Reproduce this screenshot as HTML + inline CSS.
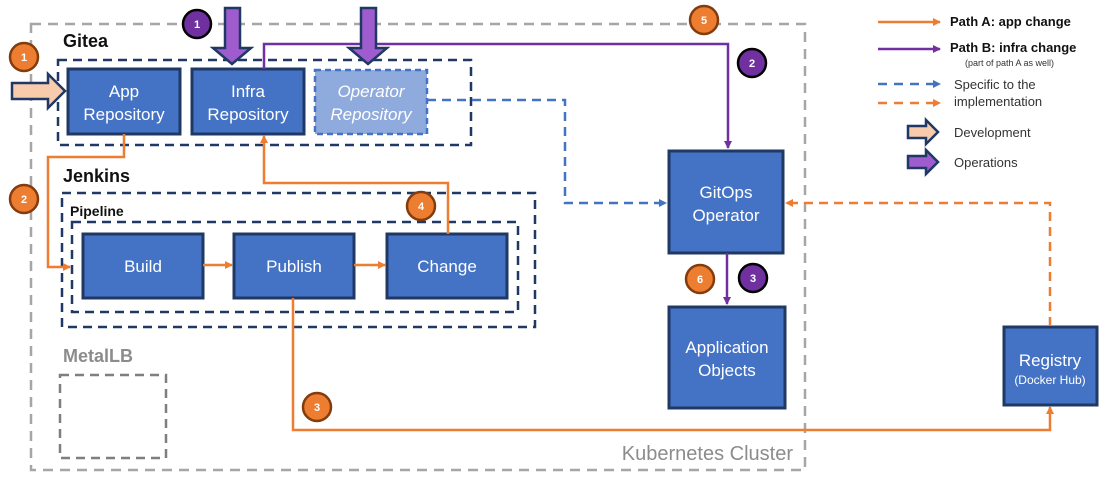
<!DOCTYPE html>
<html><head><meta charset="utf-8"><style>
html,body{margin:0;padding:0;background:#fff;}
svg{display:block;font-family:"Liberation Sans",sans-serif;}
.b{fill:#4472c4;stroke:#1f3864;stroke-width:3;}
.t{fill:#fff;font-size:17px;text-anchor:middle;}
.h{font-weight:bold;font-size:18px;fill:#111;}
</style></head><body>
<svg width="1111" height="480" viewBox="0 0 1111 480">
<defs>
<marker id="ao" markerWidth="8" markerHeight="8" refX="7" refY="4" orient="auto" markerUnits="userSpaceOnUse"><path d="M0,0 L8,4 L0,8 z" fill="#ed7d31"/></marker>
<marker id="ap" markerWidth="8" markerHeight="8" refX="7" refY="4" orient="auto" markerUnits="userSpaceOnUse"><path d="M0,0 L8,4 L0,8 z" fill="#7030a0"/></marker>
<marker id="ab" markerWidth="8" markerHeight="8" refX="7" refY="4" orient="auto" markerUnits="userSpaceOnUse"><path d="M0,0 L8,4 L0,8 z" fill="#4472c4"/></marker>
</defs>
<rect x="31" y="24" width="774" height="446" fill="none" stroke="#a6a6a6" stroke-width="2.5" stroke-dasharray="10,7"/>
<text x="793" y="460" text-anchor="end" font-size="20" fill="#8c8c8c">Kubernetes Cluster</text>
<text x="63" y="47" class="h">Gitea</text>
<rect x="58" y="60" width="413" height="85" fill="none" stroke="#1f3864" stroke-width="2.5" stroke-dasharray="9,6"/>
<rect x="68" y="69" width="112" height="65" class="b"/>
<text x="124" y="97" class="t">App</text><text x="124" y="120" class="t">Repository</text>
<rect x="192" y="69" width="112" height="65" class="b"/>
<text x="248" y="97" class="t">Infra</text><text x="248" y="120" class="t">Repository</text>
<rect x="315" y="70" width="112" height="64" fill="#8faadc" stroke="#4472c4" stroke-width="2.5" stroke-dasharray="6,4"/>
<text x="371" y="97" class="t" font-style="italic">Operator</text><text x="371" y="120" class="t" font-style="italic">Repository</text>
<text x="63" y="182" class="h">Jenkins</text>
<rect x="62" y="193" width="473" height="134" fill="none" stroke="#1f3864" stroke-width="2.5" stroke-dasharray="9,6"/>
<text x="70" y="216" font-weight="bold" font-size="14" fill="#111">Pipeline</text>
<rect x="72" y="222" width="446" height="90" fill="none" stroke="#1f3864" stroke-width="2.5" stroke-dasharray="9,6"/>
<rect x="83" y="234" width="120" height="64" class="b"/><text x="143" y="272" class="t">Build</text>
<rect x="234" y="234" width="120" height="64" class="b"/><text x="294" y="272" class="t">Publish</text>
<rect x="387" y="234" width="120" height="64" class="b"/><text x="447" y="272" class="t">Change</text>
<text x="63" y="362" class="h" style="fill:#8c8c8c">MetalLB</text>
<rect x="60" y="375" width="106" height="83" fill="none" stroke="#7f7f7f" stroke-width="2.5" stroke-dasharray="9,6"/>
<rect x="669" y="151" width="114" height="102" class="b"/>
<text x="726" y="198" class="t">GitOps</text><text x="726" y="221" class="t">Operator</text>
<rect x="669" y="307" width="116" height="101" class="b"/>
<text x="727" y="353" class="t">Application</text><text x="727" y="376" class="t">Objects</text>
<rect x="1004" y="327" width="93" height="78" class="b"/>
<text x="1050" y="366" class="t">Registry</text><text x="1050" y="384" class="t" style="font-size:12px">(Docker Hub)</text>
<g fill="none" stroke-width="2.5">
<path d="M124,134 V157 H48 V267 H70" stroke="#ed7d31" marker-end="url(#ao)"/>
<path d="M203,265 H232" stroke="#ed7d31" marker-end="url(#ao)"/>
<path d="M354,265 H385" stroke="#ed7d31" marker-end="url(#ao)"/>
<path d="M448,234 V183 H264 V136" stroke="#ed7d31" marker-end="url(#ao)"/>
<path d="M293,298 V430 H1050 V407" stroke="#ed7d31" marker-end="url(#ao)"/>
<path d="M264,69 V44 H728 V148" stroke="#7030a0" marker-end="url(#ap)"/>
<path d="M727,253 V304" stroke="#7030a0" marker-end="url(#ap)"/>
<path d="M427,100 H565 V203 H666" stroke="#4472c4" stroke-dasharray="9,6" marker-end="url(#ab)"/>
<path d="M1050,326 V203 H786" stroke="#ed7d31" stroke-dasharray="9,6" marker-end="url(#ao)"/>
</g>
<path d="M225,8 H240 V48 H251 L232,64 L213,48 H225 Z" fill="#9e5ccf" stroke="#1f3864" stroke-width="2.5"/>
<path d="M361,8 H376 V48 H387 L368,64 L349,48 H361 Z" fill="#9e5ccf" stroke="#1f3864" stroke-width="2.5"/>
<path d="M12,83 H48 V74 L65,91 L48,108 V99 H12 Z" fill="#f8cbad" stroke="#1f3864" stroke-width="2.5"/>
<g font-size="11" font-weight="bold" text-anchor="middle" fill="#fff" stroke-width="2.5">
<circle cx="24" cy="57" r="14" fill="#ed7d31" stroke="#843c0c"/><text x="24" y="61" fill="#fff">1</text>
<circle cx="197" cy="24" r="14" fill="#7030a0" stroke="#000"/><text x="197" y="28" fill="#fff">1</text>
<circle cx="24" cy="199" r="14" fill="#ed7d31" stroke="#843c0c"/><text x="24" y="203" fill="#fff">2</text>
<circle cx="421" cy="206" r="14" fill="#ed7d31" stroke="#843c0c"/><text x="421" y="210" fill="#fff">4</text>
<circle cx="704" cy="20" r="14" fill="#ed7d31" stroke="#843c0c"/><text x="704" y="24" fill="#fff">5</text>
<circle cx="752" cy="63" r="14" fill="#7030a0" stroke="#000"/><text x="752" y="67" fill="#fff">2</text>
<circle cx="700" cy="279" r="14" fill="#ed7d31" stroke="#843c0c"/><text x="700" y="283" fill="#fff">6</text>
<circle cx="753" cy="278" r="14" fill="#7030a0" stroke="#000"/><text x="753" y="282" fill="#fff">3</text>
<circle cx="317" cy="407" r="14" fill="#ed7d31" stroke="#843c0c"/><text x="317" y="411" fill="#fff">3</text>
</g>
<g fill="none" stroke-width="2.5">
<path d="M878,22 H940" stroke="#ed7d31" marker-end="url(#ao)"/>
<path d="M878,49 H940" stroke="#7030a0" marker-end="url(#ap)"/>
<path d="M878,84 H940" stroke="#4472c4" stroke-dasharray="9,7" marker-end="url(#ab)"/>
<path d="M878,103 H940" stroke="#ed7d31" stroke-dasharray="9,7" marker-end="url(#ao)"/>
</g>
<text x="950" y="26" font-size="13" font-weight="bold" fill="#111">Path A: app change</text>
<text x="950" y="52" font-size="13" font-weight="bold" fill="#111">Path B: infra change</text>
<text x="965" y="66" font-size="9" fill="#333">(part of path A as well)</text>
<text x="954" y="89" font-size="13" fill="#333">Specific to the</text>
<text x="954" y="106" font-size="13" fill="#333">implementation</text>
<path d="M908,126 H926 V120 L938,132 L926,144 V138 H908 Z" fill="#f8cbad" stroke="#1f3864" stroke-width="2.5"/>
<text x="954" y="137" font-size="13" fill="#333">Development</text>
<path d="M908,156 H926 V150 L938,162 L926,174 V168 H908 Z" fill="#9e5ccf" stroke="#1f3864" stroke-width="2.5"/>
<text x="954" y="167" font-size="13" fill="#333">Operations</text>
</svg>
</body></html>
